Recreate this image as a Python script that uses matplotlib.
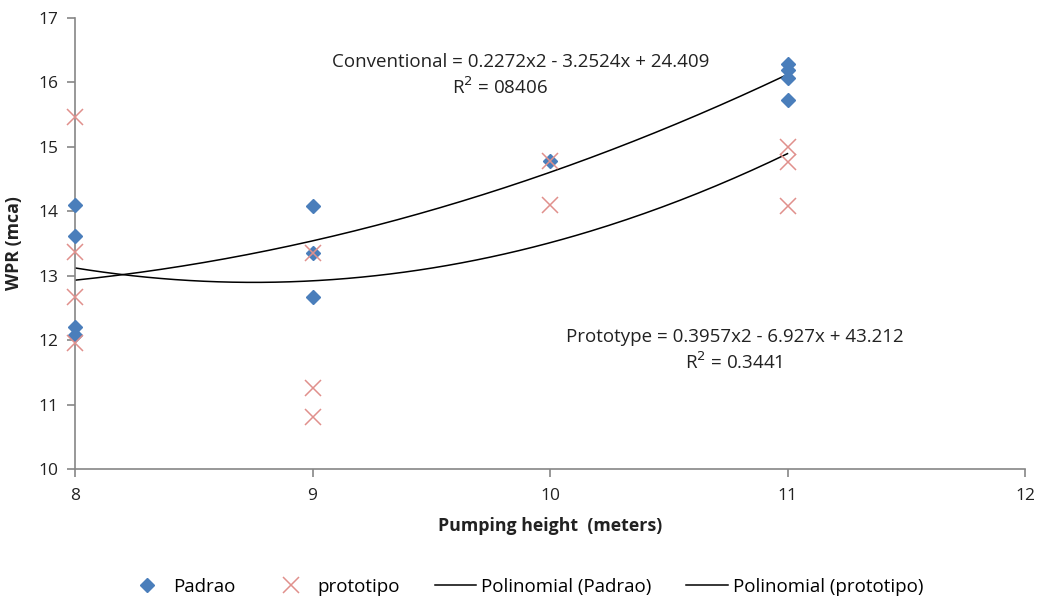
import numpy as np
import matplotlib
matplotlib.use("Agg")
import matplotlib.pyplot as plt

plt.rcParams['font.family'] = ['Open Sans', 'DejaVu Sans']

# Data
padrao_x = [8, 8, 8, 8, 9, 9, 9, 10, 11, 11, 11, 11]
padrao_y = [14.09, 13.62, 12.20, 12.08, 14.08, 13.36, 12.67, 14.78, 16.28, 16.20, 16.07, 15.72]
proto_x = [8, 8, 8, 8, 9, 9, 9, 10, 10, 11, 11, 11]
proto_y = [15.47, 13.37, 12.67, 11.96, 13.36, 11.25, 10.80, 14.78, 14.09, 15.00, 14.77, 14.08]

padrao_coef = [0.2272, -3.2524, 24.409]
proto_coef = [0.3957, -6.927, 43.212]

x_ticks = [8, 9, 10, 11, 12]
y_ticks = [10, 11, 12, 13, 14, 15, 16, 17]

blue = '#4A7EBB'
red = '#E0908C'
axis_col = '#868686'
txt = '#222222'

fig = plt.figure(figsize=(10.4, 5.98), dpi=100)
ax = fig.add_axes([75/1040, 1 - 469/598, 950/1040, 451/598])

ax.plot(padrao_x, padrao_y, linestyle='none', marker='D', markersize=7,
        color=blue, markeredgecolor=blue, label='Padrao', zorder=3, clip_on=False)
ax.plot(proto_x, proto_y, linestyle='none', marker='x', markersize=11,
        markeredgewidth=1.1, color=red, label='prototipo', zorder=3, clip_on=False)

xs = np.linspace(8, 11, 200)
ax.plot(xs, np.polyval(padrao_coef, xs), color='black', lw=1.1,
        label='Polinomial (Padrao)', zorder=2)
ax.plot(xs, np.polyval(proto_coef, xs), color='black', lw=1.1,
        label='Polinomial (prototipo)', zorder=2)

ax.set_xlim(8, 12)
ax.set_ylim(10, 17)
ax.set_xticks(x_ticks)
ax.set_yticks(y_ticks)
for s in ['top', 'right']:
    ax.spines[s].set_visible(False)
for s in ['left', 'bottom']:
    ax.spines[s].set_color(axis_col)
    ax.spines[s].set_linewidth(1.2)
ax.tick_params(axis='both', direction='out', length=6, width=1.2, color=axis_col,
               labelsize=12.5, labelcolor=txt)
ax.tick_params(axis='x', pad=8)
ax.tick_params(axis='y', pad=6)

ax.set_xlabel('Pumping height  (meters)', fontsize=12.8, fontweight='bold', labelpad=9, color=txt)
ax.set_ylabel('WPR (mca)', fontsize=12.8, fontweight='bold', labelpad=11, color=txt)

ax.text(9.878, 16.31, 'Conventional = 0.2272x2 - 3.2524x + 24.409', ha='center', va='center',
        fontsize=13.5, color=txt)
ax.text(9.79, 15.92, 'R$^2$ = 08406', ha='center', va='center', fontsize=13.5, color=txt)
ax.text(10.78, 12.05, 'Prototype = 0.3957x2 - 6.927x + 43.212', ha='center', va='center',
        fontsize=13.5, color=txt)
ax.text(10.775, 11.66, 'R$^2$ = 0.3441', ha='center', va='center', fontsize=13.5, color=txt)

handles, labels = ax.get_legend_handles_labels()
fig.legend(handles, labels, loc='center', bbox_to_anchor=(0.505, 1 - 587/598), ncol=4,
           frameon=False, fontsize=13.5, handlelength=2.2, columnspacing=1.85, handletextpad=0.3)

fig.savefig('out.png', dpi=100)
